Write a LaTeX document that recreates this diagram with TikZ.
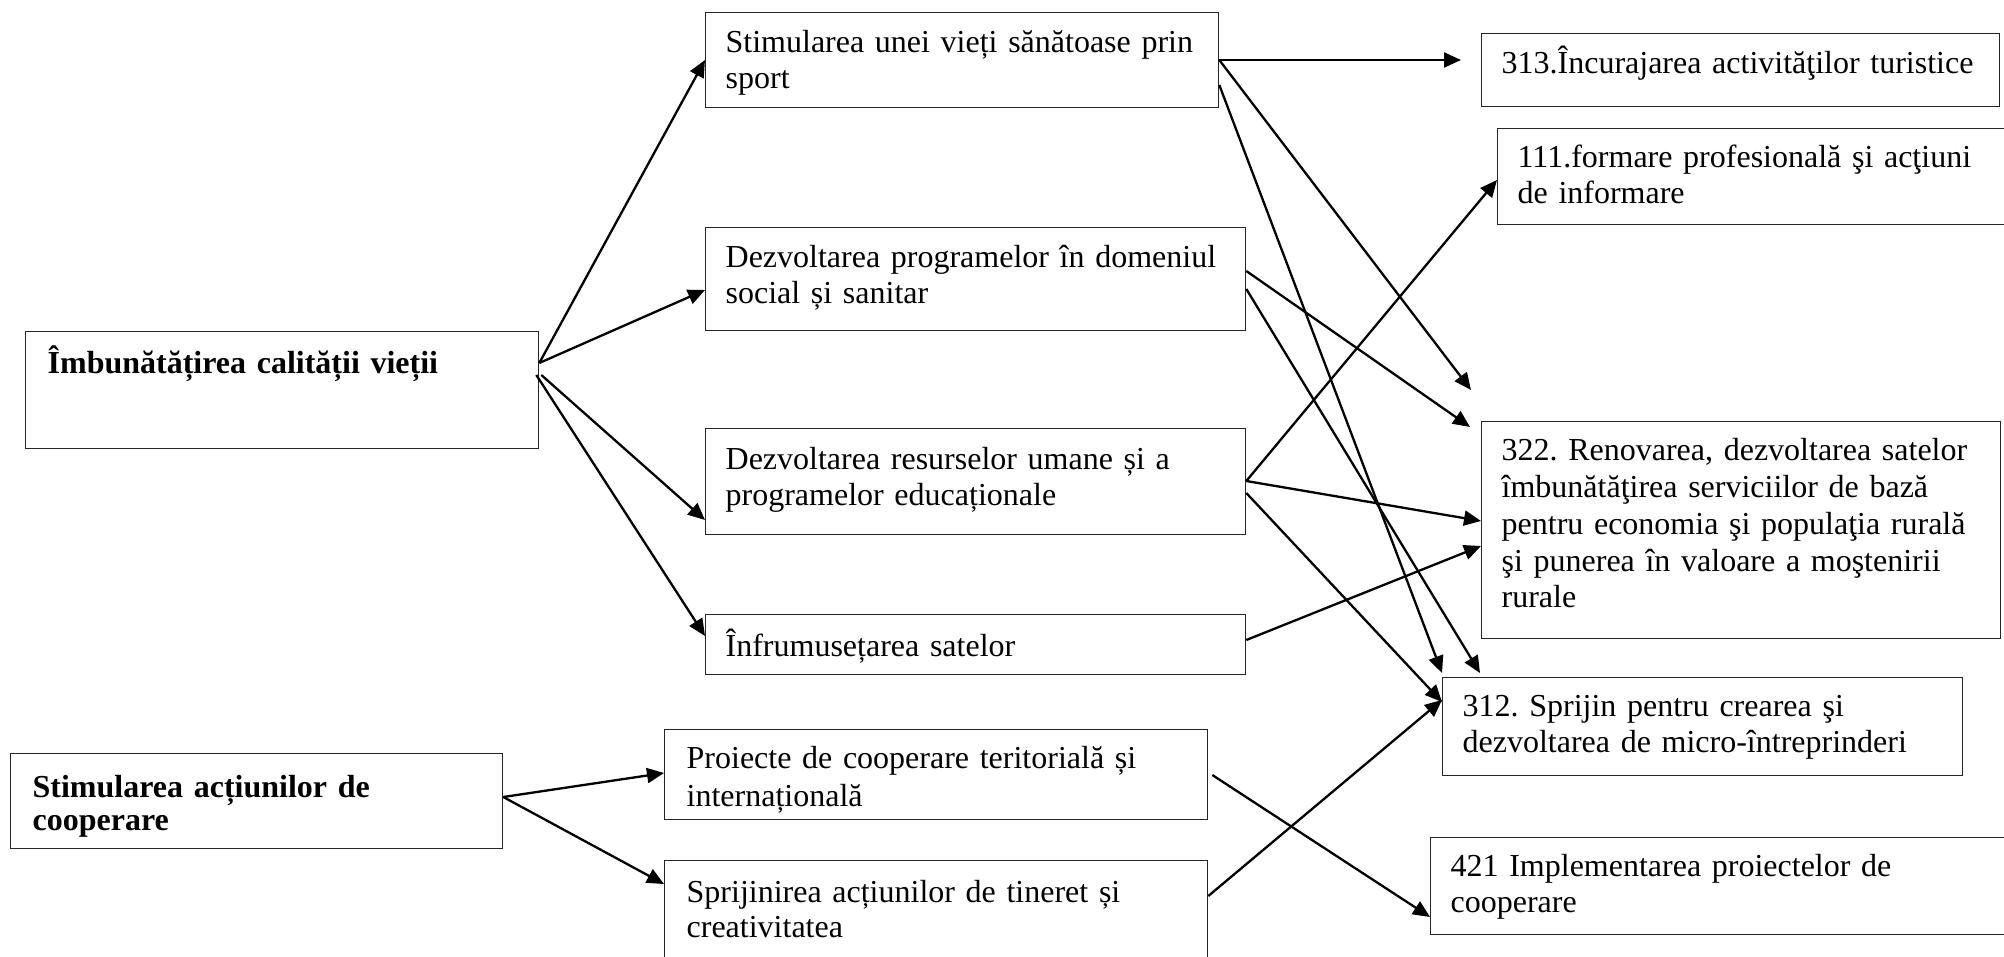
\documentclass[tikz,border=0pt]{standalone}
\usepackage{fontspec}
\setmainfont{Liberation Serif}
\usetikzlibrary{arrows.meta}
\frenchspacing
\begin{document}
\begin{tikzpicture}[x=0.5pt,y=-0.5pt,
  bx/.style={draw=black!85, line width=0.65pt, anchor=north west, inner xsep=10pt, inner ysep=0pt,
    align=left, font=\fontsize{16pt}{18pt}\selectfont},
  bbx/.style={bx, inner xsep=11pt, font=\fontsize{16pt}{16.5pt}\selectfont\bfseries},
  conn/.style={line width=1.15pt, -{Triangle[length=8.5pt,width=7.5pt]}}]
\useasboundingbox (0,0) rectangle (2004,957);

% left column
\node[bbx, text width=234.5pt, text height=21pt, text depth=37.5pt] (a) at (25,331) {Îmbunătățirea calității vieții};
\node[bbx, text width=224pt, text height=22pt, text depth=25.5pt] (b) at (10,753) {Stimularea acțiunilor de\\cooperare};

% middle column
\node[bx, text width=236.5pt, text height=20pt, text depth=27.5pt] (c1) at (705,12) {Stimularea unei vieți sănătoase prin\\sport};
\node[bx, text width=250pt, text height=20pt, text depth=31.5pt] (c2) at (705,227) {Dezvoltarea programelor în domeniul\\social și sanitar};
\node[bx, text width=250pt, text height=20.5pt, text depth=32.5pt] (c3) at (705,428) {Dezvoltarea resurselor umane și a\\programelor educaționale};
\node[bx, text width=250pt, text height=21pt, text depth=9pt] (c4) at (705,614) {Înfrumusețarea satelor};
\node[bx, inner xsep=11pt, text width=249.5pt, text height=19.5pt, text depth=25.5pt, font=\fontsize{16pt}{19pt}\selectfont] (c5) at (664,729) {Proiecte de cooperare teritorială și\\internațională};
\node[bx, inner xsep=11pt, text width=249.5pt, text height=21pt, text depth=30pt, font=\fontsize{16pt}{17.5pt}\selectfont] (c6) at (664,860) {Sprijinirea acțiunilor de tineret și\\creativitatea};

% right column
\node[bx, text width=239pt, text height=20pt, text depth=16.5pt] (d1) at (1481,33) {313.Încurajarea activităţilor turistice};
\node[bx, text width=237.5pt, text height=19.5pt, text depth=28.5pt] (d2) at (1497,128) {111.formare profesională şi acţiuni\\de informare};
\node[bx, text width=239.5pt, text height=19.5pt, text depth=89pt, font=\fontsize{16pt}{18.4pt}\selectfont] (d3) at (1481,421) {322. Renovarea, dezvoltarea satelor\\îmbunătăţirea serviciilor de bază\\pentru economia şi populaţia rurală\\şi punerea în valoare a moştenirii\\rurale};
\node[bx, text width=240pt, text height=19.5pt, text depth=29.5pt] (d4) at (1442,677) {312. Sprijin pentru crearea şi\\dezvoltarea de micro-întreprinderi};
\node[bx, text width=271pt, text height=19.5pt, text depth=29pt] (d5) at (1430,837) {421 Implementarea proiectelor de\\cooperare};

\coordinate (free) at ([xshift=-5pt,yshift=15.5pt]d3.north west);

% connectors from A
\draw[conn] ([yshift=-16pt]a.north east) -- ([yshift=-24pt]c1.north west);
\draw[conn] ([yshift=-16pt]a.north east) -- ([yshift=-31.5pt]c2.north west);
\draw[conn] ([xshift=1pt,yshift=-22pt]a.north east) -- ([yshift=-46pt]c3.north west);
\draw[conn] ([xshift=-1.5pt,yshift=-22pt]a.north east) -- ([yshift=-11pt]c4.north west);
% connectors from B
\draw[conn] ([yshift=-22pt]b.north east) -- ([yshift=-22pt]c5.north west);
\draw[conn] ([yshift=-22pt]b.north east) -- ([yshift=-12pt]c6.north west);
% from C1
\draw[conn] ([yshift=-24pt]c1.north east) -- ([xshift=-10pt,yshift=-13.5pt]d1.north west);
\draw[conn] ([yshift=-24pt]c1.north east) -- (free);
\draw[conn] ([yshift=-36.5pt]c1.north east) -- ([yshift=2pt]d4.north west);
% from C2
\draw[conn] ([yshift=-22pt]c2.north east) -- ([xshift=-5.5pt,yshift=-3pt]d3.north west);
\draw[conn] ([yshift=-31pt]c2.north east) -- ([xshift=19pt,yshift=2pt]d4.north west);
% from C3
\draw[conn] ([yshift=-26.5pt]c3.north east) -- ([yshift=-26pt]d2.north west);
\draw[conn] ([yshift=-26.5pt]c3.north east) -- ([yshift=-50pt]d3.north west);
\draw[conn] ([yshift=-32.5pt]c3.north east) -- ([yshift=-12.5pt]d4.north west);
% from C4
\draw[conn] ([yshift=-13pt]c4.north east) -- ([yshift=-62.5pt]d3.north west);
% from C5, C6
\draw[conn] ([xshift=2pt,yshift=-23pt]c5.north east) -- ([yshift=-40pt]d5.north west);
\draw[conn] ([yshift=-18pt]c6.north east) -- ([yshift=-11.5pt]d4.north west);
\end{tikzpicture}
\end{document}
